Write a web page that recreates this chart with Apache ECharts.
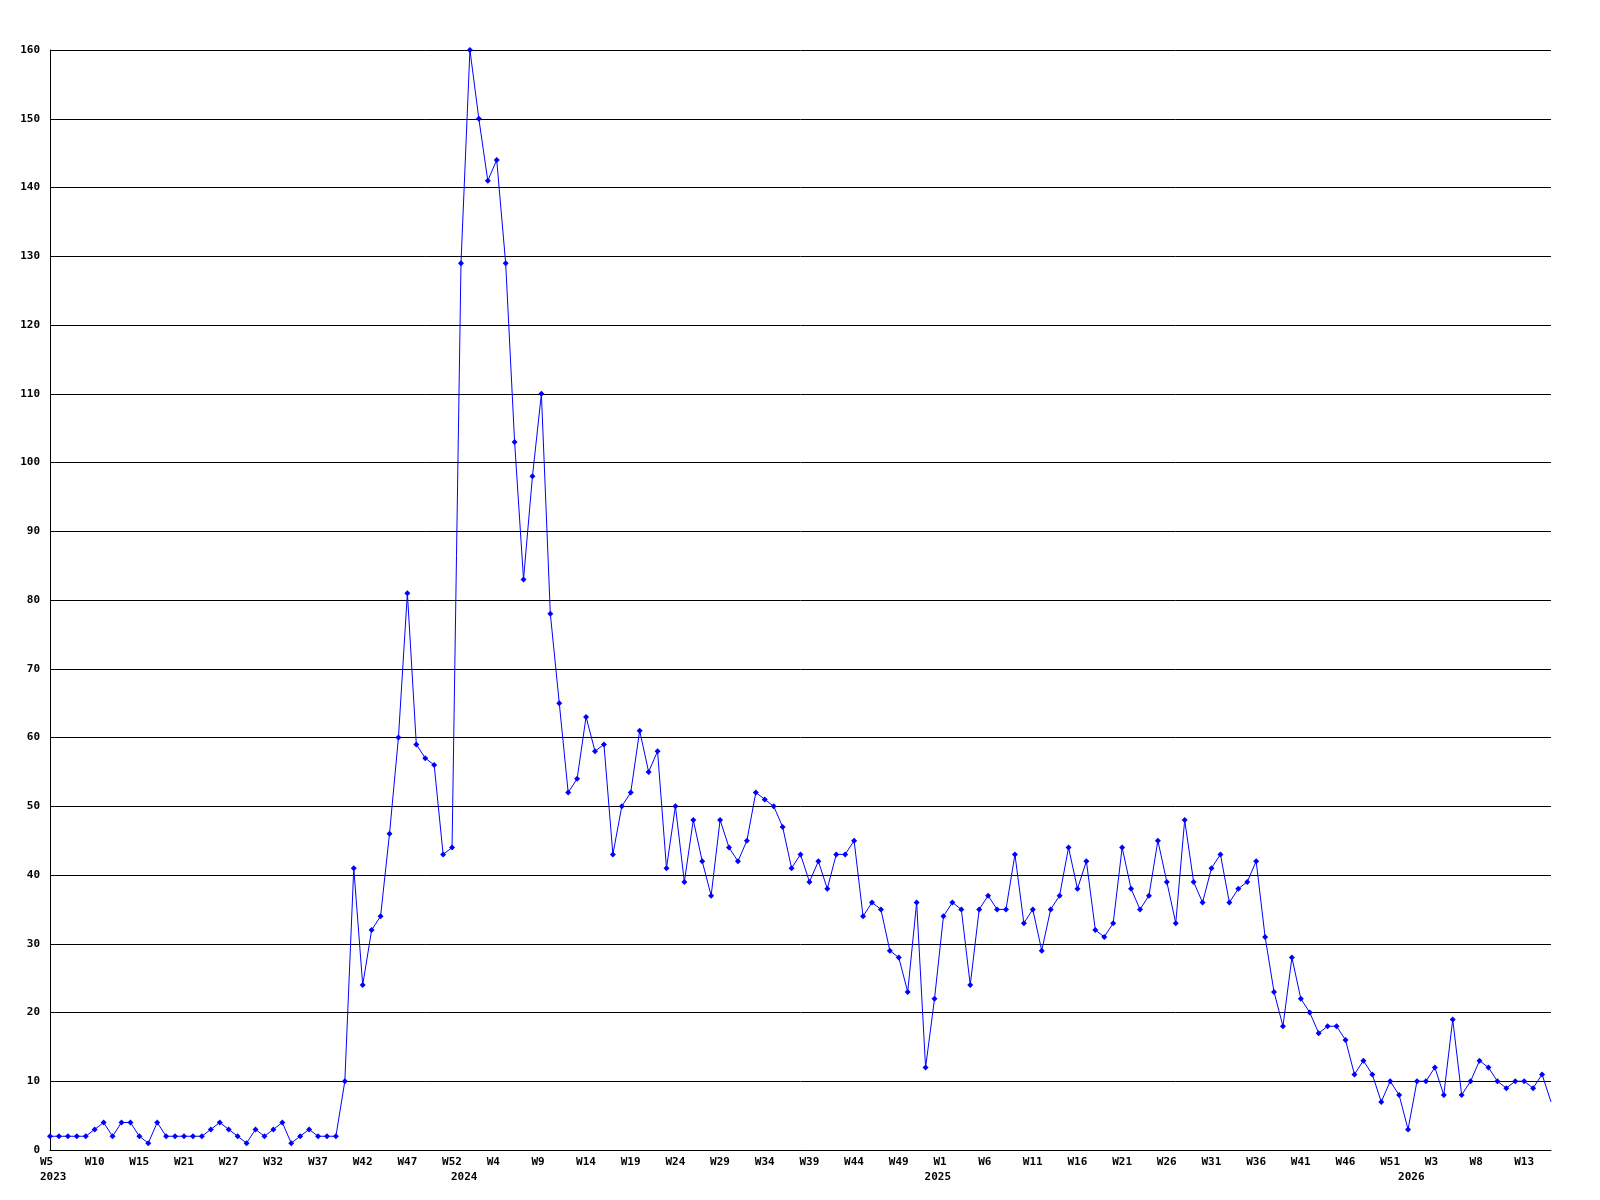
<!DOCTYPE html>
<html>
<head>
<meta charset="utf-8">
<script src="https://cdn.jsdelivr.net/npm/echarts@6/dist/echarts.min.js"></script>
<style>
  html, body { margin: 0; padding: 0; background: #ffffff; }
  #chart { width: 1600px; height: 1200px; }
</style>
</head>
<body>
<div id="chart"></div>
<script>
// Weekly values, 169 consecutive points (2023 W5 ... 2026)
const values = [
  2,2,2,2,2,3,4,2,4,4,2,1,4,2,2,2,2,2,3,4,3,2,1,3,2,3,4,1,2,3,2,2,2,
  10,41,24,32,34,46,60,81,59,57,56,43,44,
  129,160,150,141,144,129,103,83,98,110,78,
  65,52,54,63,58,59,43,50,52,61,55,58,41,50,39,48,42,37,48,44,42,45,52,51,50,47,41,43,39,
  42,38,43,43,45,34,36,35,29,28,23,36,12,22,34,36,35,24,35,37,35,35,43,33,35,
  29,35,37,44,38,42,32,31,33,44,38,35,37,45,39,33,48,39,36,41,43,36,38,39,42,31,
  23,18,28,22,20,17,18,18,16,11,13,11,7,10,8,3,10,10,12,8,19,8,10,13,12,10,9,10,10,9,11,7
];

// Week tick labels, one every 5th point
const tickLabels = [
  'W5','W10','W15','W21','W27','W32','W37','W42','W47','W52',
  'W4','W9','W14','W19','W24','W29','W34','W39','W44','W49',
  'W1','W6','W11','W16','W21','W26','W31','W36','W41','W46','W51',
  'W3','W8','W13'
];
const tickStep = 5;

// Year labels and the point index they sit under
const yearLabels = ['2023', '2024', '2025', '2026'];
const yearIndex = [0, 46, 99, 152];

const categories = values.map((v, i) => String(i));

const FONT = '"DejaVu Sans Mono", "Liberation Mono", monospace';

const chart = echarts.init(document.getElementById('chart'), null, { renderer: 'canvas' });

chart.setOption({
  animation: false,
  backgroundColor: '#ffffff',
  grid: { left: 50, right: 49, top: 50, bottom: 50, containLabel: false },
  xAxis: {
    type: 'category',
    data: categories,
    boundaryGap: false,
    axisLine: { show: true, lineStyle: { color: '#000000', width: 1 } },
    axisTick: { show: false },
    splitLine: { show: false },
    axisLabel: {
      interval: 0,
      margin: 5,
      align: 'center',
      verticalAlign: 'top',
      formatter: function (val, idx) {
        const w = (idx % tickStep === 0 && tickLabels[idx / tickStep]) ? tickLabels[idx / tickStep] : '';
        const yi = yearIndex.indexOf(idx);
        const y = yi >= 0 ? yearLabels[yi] : '';
        if (!w && !y) return '';
        return '{a|' + (w || ' ') + '}\n{a|' + (y || ' ') + '}';
      },
      rich: {
        a: {
          width: 20,
          align: 'left',
          fontFamily: FONT,
          fontSize: 11,
          fontWeight: 'bold',
          color: '#000000',
          lineHeight: 15
        }
      }
    }
  },
  yAxis: {
    type: 'value',
    min: 0,
    max: 160,
    interval: 10,
    axisLine: { show: true, lineStyle: { color: '#000000', width: 1 } },
    axisTick: { show: false },
    splitLine: { show: true, lineStyle: { color: '#000000', width: 1 } },
    axisLabel: {
      margin: 10,
      fontFamily: FONT,
      fontSize: 11,
      fontWeight: 'bold',
      color: '#000000'
    }
  },
  series: [{
    type: 'line',
    data: values,
    showSymbol: true,
    showAllSymbol: true,
    symbol: 'diamond',
    symbolSize: function (v, p) { return p.dataIndex === values.length - 1 ? 0 : 6; },
    clip: true,
    lineStyle: { color: '#0000ff', width: 1 },
    itemStyle: { color: '#0000ff' },
    emphasis: { disabled: true }
  }]
});
</script>
</body>
</html>
